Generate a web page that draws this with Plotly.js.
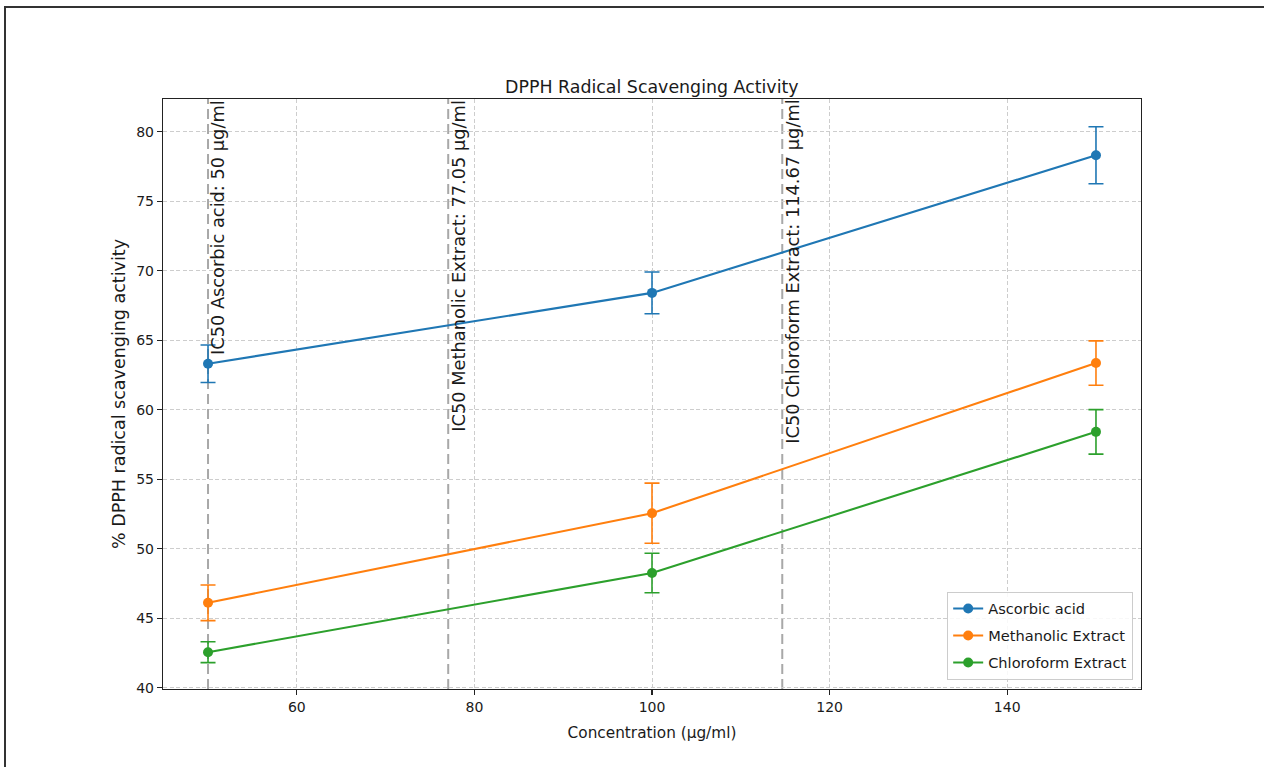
<!DOCTYPE html>
<html>
<head>
<meta charset="utf-8">
<script src="https://cdn.plot.ly/plotly-3.0.1.min.js"></script>
<style>
  html, body { margin: 0; padding: 0; background: #fff; overflow: hidden; }
  #chart { width: 1264px; height: 767px; }
  #frame { position: absolute; left: 4px; top: 6px; width: 2000px; height: 2000px;
           border-left: 2px solid #333; border-top: 2px solid #333; pointer-events: none; }
</style>
</head>
<body>
<div id="chart"></div>
<div id="frame"></div>
<script>
// ---- data ----
const concentrations = [50, 100, 150];
const seriesNames = ["Ascorbic acid", "Methanolic Extract", "Chloroform Extract"];
const ascorbicMean = [63.3, 68.4, 78.3];
const ascorbicErr = [1.35, 1.5, 2.05];
const methanolicMean = [46.1, 52.55, 63.35];
const methanolicErr = [1.28, 2.16, 1.6];
const chloroformMean = [42.55, 48.25, 58.4];
const chloroformErr = [0.75, 1.42, 1.6];
const ic50Labels = ["IC50 Ascorbic acid: 50 µg/ml", "IC50 Methanolic Extract: 77.05 µg/ml", "IC50 Chloroform Extract: 114.67 µg/ml"];
const ic50Values = [50, 77.05, 114.67];
const xTicks = [60, 80, 100, 120, 140];
const yTicks = [40, 45, 50, 55, 60, 65, 70, 75, 80];
const seriesColors = ["#1f77b4", "#ff7f0e", "#2ca02c"];

const means = [ascorbicMean, methanolicMean, chloroformMean];
const errs = [ascorbicErr, methanolicErr, chloroformErr];

const FONT = "DejaVu Sans, sans-serif";
const TXT = "#1a1a1a";

const traces = seriesNames.map((name, i) => ({
  type: "scatter",
  mode: "lines+markers",
  name: name,
  x: concentrations,
  y: means[i],
  legendgroup: "g" + i,
  line: { color: seriesColors[i], width: 2.1 },
  marker: { color: seriesColors[i], size: 10 },
  error_y: { type: "data", array: errs[i], visible: true, color: seriesColors[i], thickness: 1.6, width: 7.5 }
}));

const shapes = ic50Values.map(v => ({
  type: "line", xref: "x", yref: "paper", x0: v, x1: v, y0: 0, y1: 1,
  line: { color: "#a8a8a8", width: 2, dash: "10px,5px" }, layer: "below"
}));

const annotations = ic50Values.map((v, i) => ({
  xref: "x", yref: "paper", x: v, y: 1, xanchor: "left", yanchor: "top",
  text: ic50Labels[i], textangle: -90, showarrow: false,
  font: { family: FONT, size: 17.8, color: TXT }, borderpad: 0, xshift: -2
}));

const axisCommon = {
  showline: true, mirror: true, linecolor: "#222", linewidth: 1.2,
  ticks: "outside", ticklen: 5, tickcolor: "#222", tickwidth: 1.2,
  showgrid: true, gridcolor: "#cdcdcd", gridwidth: 1, griddash: "4px,2.5px",
  zeroline: false, tickfont: { family: FONT, size: 14, color: TXT }
};

const layout = {
  width: 1264, height: 767,
  margin: { l: 163, r: 123, t: 99, b: 78 },
  paper_bgcolor: "#fff", plot_bgcolor: "#fff",
  font: { family: FONT, color: TXT },
  title: { text: "DPPH Radical Scavenging Activity", font: { family: FONT, size: 17.4, color: TXT },
           x: 0.5157, xanchor: "center", yref: "paper", y: 1, yanchor: "bottom", pad: { b: 6 } },
  xaxis: Object.assign({}, axisCommon, {
    range: [44.93, 155.07], tickvals: xTicks,
    title: { text: "Concentration (µg/ml)", font: { family: FONT, size: 15.3, color: TXT }, standoff: 13 }
  }),
  yaxis: Object.assign({}, axisCommon, {
    range: [39.9, 82.35], tickvals: yTicks,
    title: { text: "% DPPH radical scavenging activity", font: { family: FONT, size: 17.5, color: TXT }, standoff: 6 }
  }),
  legend: {
    x: 0.992, y: 0.016, xanchor: "right", yanchor: "bottom",
    bgcolor: "rgba(255,255,255,0.85)", bordercolor: "#cccccc", borderwidth: 1,
    font: { family: FONT, size: 14.6, color: TXT }, traceorder: "grouped", tracegroupgap: 5
  },
  shapes: shapes,
  annotations: annotations,
  showlegend: true
};

Plotly.newPlot("chart", traces, layout, { displayModeBar: false, staticPlot: true });
</script>
</body>
</html>
